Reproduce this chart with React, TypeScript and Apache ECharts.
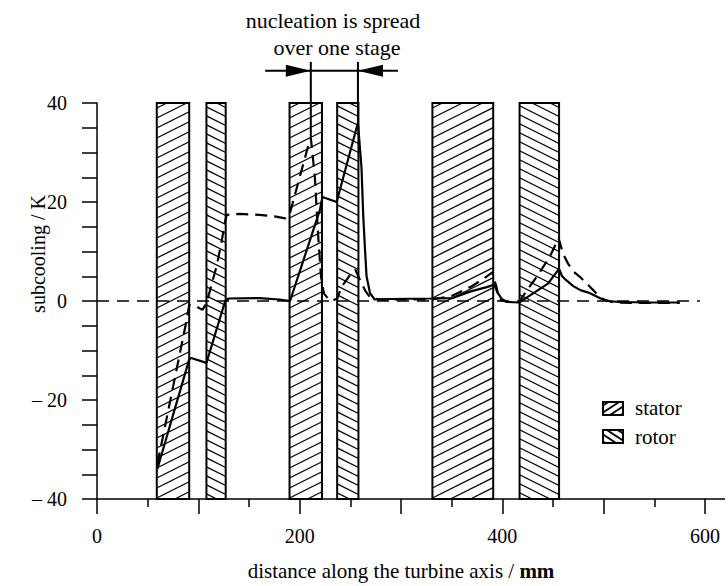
import React, { useEffect, useRef } from 'react';
import * as echarts from 'echarts';

// blade rows: [start, end] along the axis (mm)
const STATOR_ROWS: number[][] = [[59, 91], [190, 222], [331, 391]];
const ROTOR_ROWS: number[][] = [[108, 127], [237, 258], [417, 456]];
const BLADE_LOW = -40;
const BLADE_HIGH = 40;

// subcooling curves [distance mm, subcooling K]
const SOLID_CURVE: number[][] = [
  [59.5, -34], [91, -11.8], [93, -11.5], [108, -12.5], [126.5, 0], [130, 0.5],
  [160, 0.6], [180, 0.3], [190.5, 0], [220, 18.4], [222.5, 21], [236.5, 20],
  [257.5, 36], [261, 27], [262.8, 17], [264.5, 10.3], [266, 5], [269.4, 1.6],
  [274, 0.3], [290, 0.4], [330, 0.5], [351, 0.6], [368, 1.9], [384.6, 2.8],
  [392, 3.3], [395, 1.8], [399.4, 0.4], [405, -0.2], [416.5, -0.3], [430, 1.5],
  [445, 3.5], [456, 6.5], [459, 5], [463, 4.2], [470, 3], [477, 2.2], [485, 1.7],
  [492, 1], [497, 0.5], [505, 0], [515, -0.2], [545, -0.3], [575, -0.3]
];
const DASHED_CURVE: number[][] = [
  [59.5, -33], [88.5, -3.8], [91, -0.8], [97, -1], [104, -1.8], [108, -0.5],
  [112, 2.5], [118, 7], [123, 12], [126, 15.7], [128, 17.4], [140, 17.6],
  [160, 17.4], [175, 17.1], [186, 16.7], [190, 17.5], [193, 19.7], [200, 25],
  [208, 31], [211, 33], [215, 25], [218, 14], [221, 5], [224, 1.5], [228, 0.5],
  [232, 0], [237, 0.5], [241.5, 2.9], [251, 5.6], [255, 6.3], [259.6, 4.2],
  [265, 2], [270, 0.6], [280, 0.3], [330, 0.3], [350, 1], [370, 3], [385, 5],
  [390, 5.8], [394, 3], [397, 0.3], [405, -0.2], [417, -0.2], [420, 0.9],
  [434, 4.9], [447, 9], [455.5, 12.7], [460, 9.5], [465, 7.5], [470, 6],
  [477, 4.8], [485, 3.2], [493, 1.5], [500, 0.3], [510, -0.3], [540, -0.4],
  [575, -0.4]
];
const ZERO_LINE: number[][] = [[0, 0], [595, 0]];

// annotation anchors (data coords)
const NUC_START: number[] = [211, 33];
const NUC_END: number[] = [257.5, 36];
const NUC_TOP_Y = 48.3;
const NUC_BAR_Y = 46.5;
const NUC_BAR_X: number[] = [166, 297];

const FONT = '"Liberation Serif", "Times New Roman", serif';

function hatch(left: number, top: number, w: number, h: number, dir: string,
  step: number, slope: number, lw: number): any[] {
  const right = left + w;
  const bottom = top + h;
  const out: any[] = [];
  if (dir === 's') {
    for (let c = top + step / 2; c < bottom + slope * w; c += step) {
      const xa = Math.max(left, left + (c - bottom) / slope);
      const xb = Math.min(right, left + (c - top) / slope);
      if (xb - xa > 0.5) {
        out.push({
          type: 'line',
          shape: { x1: xa, y1: c - slope * (xa - left), x2: xb, y2: c - slope * (xb - left) },
          style: { stroke: '#000', lineWidth: lw }
        });
      }
    }
  } else {
    for (let c = top - slope * w + step / 2; c < bottom; c += step) {
      const xa = Math.max(left, left + (top - c) / slope);
      const xb = Math.min(right, left + (bottom - c) / slope);
      if (xb - xa > 0.5) {
        out.push({
          type: 'line',
          shape: { x1: xa, y1: c + slope * (xa - left), x2: xb, y2: c + slope * (xb - left) },
          style: { stroke: '#000', lineWidth: lw }
        });
      }
    }
  }
  return out;
}

function bladeSeries(rows: number[][], dir: string, name: string): any {
  return {
    type: 'custom',
    name,
    coordinateSystem: 'cartesian2d',
    clip: false,
    z: 1,
    data: rows.map((r) => [r[0], r[1]]),
    encode: { x: [0, 1] },
    renderItem: (params: any, api: any) => {
      const p0 = api.coord([api.value(0), BLADE_HIGH]);
      const p1 = api.coord([api.value(1), BLADE_LOW]);
      const left = p0[0];
      const top = p0[1];
      const w = p1[0] - p0[0];
      const h = p1[1] - p0[1];
      const children: any[] = [
        { type: 'rect', shape: { x: left, y: top, width: w, height: h }, style: { fill: '#fff' } },
        ...hatch(left, top, w, h, dir, dir === 's' ? 10 : 9, 0.5, 1.3),
        {
          type: 'rect', shape: { x: left, y: top, width: w, height: h },
          style: { fill: 'none', stroke: '#000', lineWidth: 2 }
        }
      ];
      return { type: 'group', children };
    }
  };
}

export default function App() {
  const ref = useRef<HTMLDivElement>(null);
  useEffect(() => {
    if (!ref.current) return;
    const chart = echarts.init(ref.current, undefined, { renderer: 'svg' });
    const axisLineStyle = { color: '#000', width: 1.5 };
    chart.setOption({
      animation: false,
      backgroundColor: '#fff',
      grid: { left: 97, right: 23, top: 103, bottom: 87 },
      xAxis: {
        type: 'value',
        min: 0,
        max: 600,
        interval: 100,
        axisLine: { onZero: false, lineStyle: axisLineStyle },
        axisTick: { length: 15, lineStyle: axisLineStyle },
        minorTick: { show: true, splitNumber: 2, length: 8, lineStyle: axisLineStyle },
        splitLine: { show: false },
        axisLabel: {
          color: '#000', fontFamily: FONT, fontSize: 20, margin: 27,
          formatter: (v: number) => (v % 200 === 0 ? String(v) : '')
        },
        name: '{a|distance along the turbine axis / }{b|mm}',
        nameLocation: 'middle',
        nameGap: 61,
        nameTextStyle: {
          rich: {
            a: { fontFamily: FONT, fontSize: 21, color: '#000' },
            b: { fontFamily: FONT, fontSize: 21, fontWeight: 'bold', color: '#000' }
          }
        }
      },
      yAxis: {
        type: 'value',
        min: -40,
        max: 40,
        interval: 5,
        axisLine: { lineStyle: axisLineStyle },
        axisTick: { length: 15, lineStyle: axisLineStyle },
        splitLine: { show: false },
        axisLabel: {
          color: '#000', fontFamily: FONT, fontSize: 20, margin: 30,
          formatter: (v: number) => (v % 20 === 0 ? (v < 0 ? '\u2013 ' + (-v) : String(v)) : '')
        }
      },
      series: [
        bladeSeries(STATOR_ROWS, 's', 'stator'),
        bladeSeries(ROTOR_ROWS, 'r', 'rotor'),
        {
          type: 'line', name: 'zero', data: ZERO_LINE, showSymbol: false, z: 3,
          lineStyle: { color: '#000', width: 1.4, type: [12, 8] }
        },
        {
          type: 'line', name: 'case A', data: SOLID_CURVE, showSymbol: false, z: 5,
          lineStyle: { color: '#000', width: 2.2, type: 'solid' }
        },
        {
          type: 'line', name: 'case B', data: DASHED_CURVE, showSymbol: false, z: 5,
          lineStyle: { color: '#000', width: 2.2, type: [12, 7] }
        }
      ]
    });

    const px = (p: number[]) => chart.convertToPixel({ gridIndex: 0 }, p) as number[];
    const s0 = px(NUC_START);
    const s1 = px([NUC_START[0], NUC_TOP_Y]);
    const e0 = px(NUC_END);
    const e1 = px([NUC_END[0], NUC_TOP_Y]);
    const b0 = px([NUC_BAR_X[0], NUC_BAR_Y]);
    const b1 = px([NUC_BAR_X[1], NUC_BAR_Y]);
    const axEnd = px([600, -40]);
    const stroke = { stroke: '#000', lineWidth: 2 };
    const by = b0[1];
    const graphic: any[] = [
      { type: 'line', shape: { x1: axEnd[0], y1: axEnd[1], x2: axEnd[0] + 20, y2: axEnd[1] }, style: { stroke: '#000', lineWidth: 1.5 } },
      { type: 'line', shape: { x1: s0[0], y1: s0[1], x2: s1[0], y2: s1[1] }, style: stroke, z: 10 },
      { type: 'line', shape: { x1: e0[0], y1: e0[1], x2: e1[0], y2: e1[1] }, style: stroke, z: 10 },
      { type: 'line', shape: { x1: b0[0], y1: by, x2: b1[0], y2: by }, style: stroke, z: 10 },
      { type: 'polygon', shape: { points: [[s0[0], by], [s0[0] - 25, by - 6], [s0[0] - 25, by + 6]] }, style: { fill: '#000' }, z: 10 },
      { type: 'polygon', shape: { points: [[e0[0], by], [e0[0] + 25, by - 6], [e0[0] + 25, by + 6]] }, style: { fill: '#000' }, z: 10 },
      { type: 'text', x: 333, y: 20, style: { text: 'nucleation is spread', fontFamily: FONT, fontSize: 22, fill: '#000', align: 'center', verticalAlign: 'middle' } },
      { type: 'text', x: 337, y: 47, style: { text: 'over one stage', fontFamily: FONT, fontSize: 22, fill: '#000', align: 'center', verticalAlign: 'middle' } },
      { type: 'text', x: 38, y: 254, rotation: Math.PI / 2, style: { text: 'subcooling / K', fontFamily: FONT, fontSize: 20, fill: '#000', align: 'center', verticalAlign: 'middle' } },
      { type: 'rect', shape: { x: 603, y: 402, width: 20, height: 13 }, style: { fill: '#fff' } },
      ...hatch(603, 402, 20, 13, 's', 7, 0.65, 2),
      { type: 'rect', shape: { x: 603, y: 402, width: 20, height: 13 }, style: { fill: 'none', stroke: '#000', lineWidth: 2 } },
      { type: 'rect', shape: { x: 603, y: 430, width: 20, height: 13 }, style: { fill: '#fff' } },
      ...hatch(603, 430, 20, 13, 'r', 7, 0.65, 2),
      { type: 'rect', shape: { x: 603, y: 430, width: 20, height: 13 }, style: { fill: 'none', stroke: '#000', lineWidth: 2 } },
      { type: 'text', x: 635, y: 408, style: { text: 'stator', fontFamily: FONT, fontSize: 21, fill: '#000', align: 'left', verticalAlign: 'middle' } },
      { type: 'text', x: 635, y: 437, style: { text: 'rotor', fontFamily: FONT, fontSize: 21, fill: '#000', align: 'left', verticalAlign: 'middle' } }
    ];
    chart.setOption({ graphic });
    return () => chart.dispose();
  }, []);
  return <div ref={ref} style={{ width: 728, height: 586, position: 'absolute', left: 0, top: 0 }} />;
}
